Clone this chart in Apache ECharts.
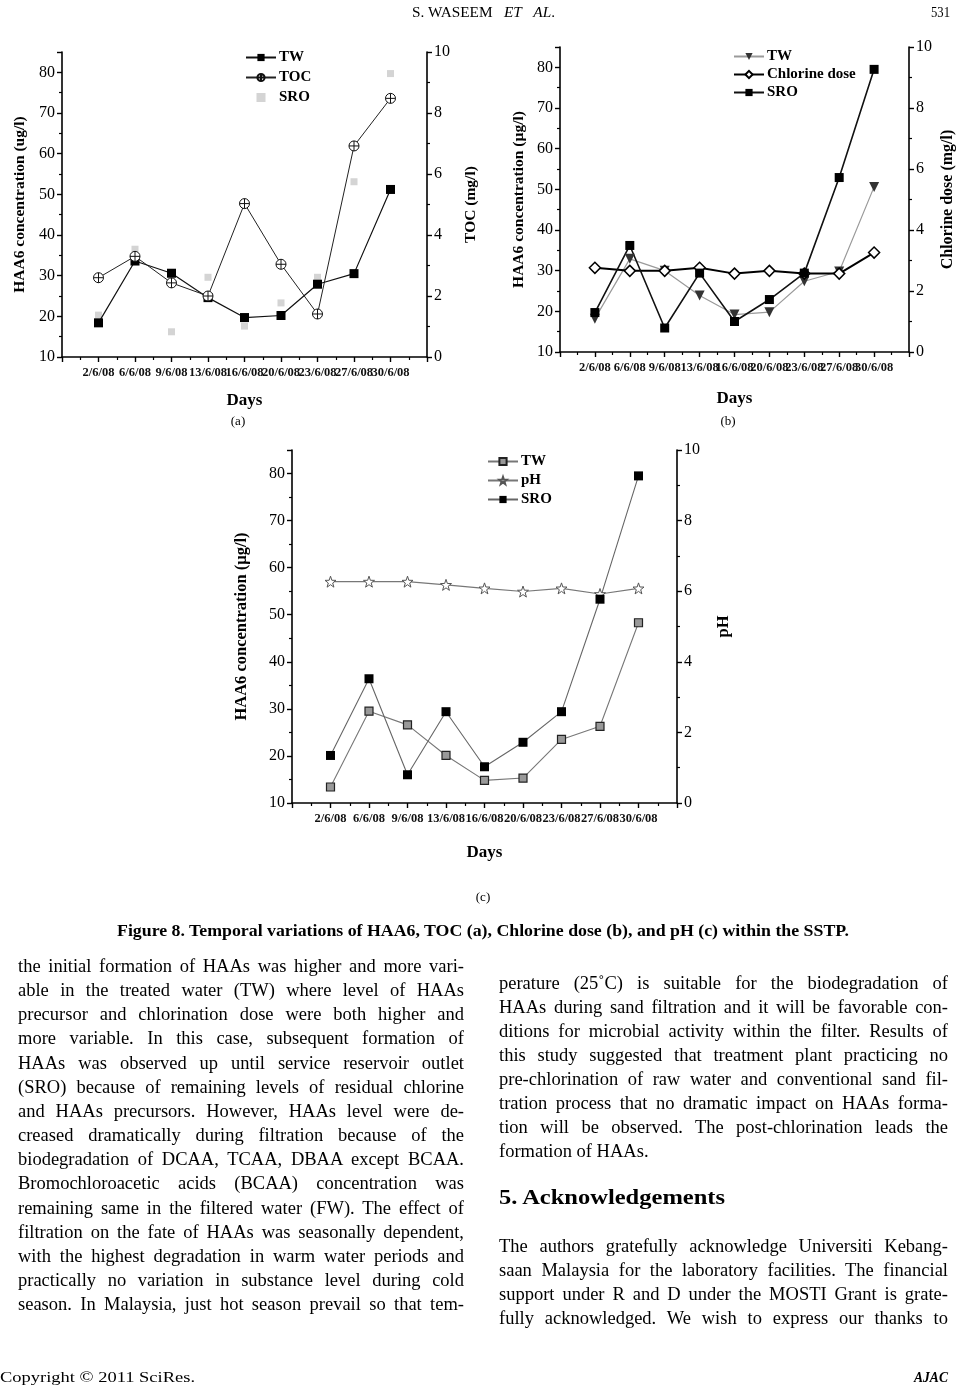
<!DOCTYPE html>
<html><head><meta charset="utf-8">
<script src="https://cdn.jsdelivr.net/npm/echarts@6/dist/echarts.min.js"></script>
<style>
html,body{margin:0;padding:0;background:#fff;}
#page{position:relative;width:967px;height:1386px;overflow:hidden;font-family:"Liberation Serif","Times New Roman",serif;color:#000;}
#chart{position:absolute;left:0;top:0;width:967px;height:1386px;}
.t{position:absolute;white-space:nowrap;transform-origin:0 50%;}
</style></head>
<body><div id="page"><div id="chart"></div></div>
<script>
// ---- data ----
const days = ['2/6/08','6/6/08','9/6/08','13/6/08','16/6/08','20/6/08','23/6/08','27/6/08','30/6/08'];
const haaTicks = [10,20,30,40,50,60,70,80];
const rightTicks = [0,2,4,6,8,10];
// (a)
const aTW  = [18.4,33.6,30.6,24.6,19.7,20.2,27.9,30.5,51.2];
const aTOC = [2.6,3.3,2.43,2.0,5.03,3.04,1.41,6.92,8.48];
const aSRO = [20.3,36.5,16.2,29.6,17.6,23.3,29.6,53.1,79.7];
// (b)
const bTW       = [18.2,32.9,30.0,23.9,19.2,19.8,27.4,29.8,50.6];
const bChlorine = [2.76,2.66,2.66,2.76,2.57,2.66,2.57,2.57,3.26];
const bSRO      = [19.7,36.2,15.9,29.4,17.5,22.9,29.4,52.9,79.5];
// (c)
const cTW  = [13.4,29.5,26.6,20.1,14.8,15.3,23.5,26.3,48.3];
const cPH  = [6.27,6.27,6.27,6.18,6.08,5.99,6.08,5.92,6.08];
const cSRO = [20.1,36.4,16.0,29.4,17.7,22.9,29.4,53.3,79.5];

const legendNames = {aTW:'TW', aTOC:'TOC', aSRO:'SRO', bTW:'TW', bCl:'Chlorine dose', bSRO:'SRO', cTW:'TW', cPH:'pH', cSRO:'SRO'};

const FF = '"Liberation Serif","Times New Roman",serif';
const pts = arr => arr.map((v,i)=>[i+1, v]);

function xAx(g, gap){
  return {type:'value', gridIndex:g, min:0, max:10, interval:1,
    name:'Days', nameLocation:'middle', nameGap:gap,
    nameTextStyle:{fontFamily:FF, fontWeight:'bold', fontSize:17, color:'#000'},
    axisLine:{show:true, lineStyle:{color:'#000', width:1.6}},
    axisTick:{show:true, length:5, lineStyle:{color:'#000', width:1.4}},
    minorTick:{show:true, splitNumber:2, length:3, lineStyle:{color:'#000', width:1.2}},
    splitLine:{show:false},
    axisLabel:{formatter:v=>days[v-1]||'', fontFamily:FF, fontSize:12.5, fontWeight:'bold', color:'#111', margin:9, hideOverlap:false}
  };
}
function yLeft(g, name, gap, fs){
  return {type:'value', gridIndex:g, position:'left', min:haaTicks[0], max:85, interval:10,
    name:name, nameLocation:'middle', nameRotate:90, nameGap:gap,
    nameTextStyle:{fontFamily:FF, fontWeight:'bold', fontSize:fs, color:'#000'},
    axisLine:{show:true, lineStyle:{color:'#000', width:1.6}},
    axisTick:{show:true, length:5, lineStyle:{color:'#000', width:1.4}},
    minorTick:{show:true, splitNumber:2, length:3, lineStyle:{color:'#000', width:1.2}},
    splitLine:{show:false},
    axisLabel:{formatter:v=>haaTicks.indexOf(v)>=0?String(v):'', fontFamily:FF, fontSize:16, color:'#000', margin:7}
  };
}
function yRight(g, name, gap, fs){
  return {type:'value', gridIndex:g, position:'right', min:rightTicks[0], max:rightTicks[rightTicks.length-1], interval:2,
    name:name, nameLocation:'middle', nameRotate:90, nameGap:gap,
    nameTextStyle:{fontFamily:FF, fontWeight:'bold', fontSize:fs, color:'#000'},
    axisLine:{show:true, lineStyle:{color:'#000', width:1.6}},
    axisTick:{show:true, length:5, lineStyle:{color:'#000', width:1.4}},
    minorTick:{show:true, splitNumber:2, length:3, lineStyle:{color:'#000', width:1.2}},
    splitLine:{show:false},
    axisLabel:{fontFamily:FF, fontSize:16, color:'#000', margin:7}
  };
}
const crossCircle = 'path://M10,0A10,10,0,1,1,9.99,0ZM10,0L10,20M0,10L20,10';
const star = 'path://M10,0L12.35,6.76L19.51,6.91L13.8,11.24L15.88,18.09L10,14L4.12,18.09L6.2,11.24L0.49,6.91L7.65,6.76Z';
const square = 'path://M0,0H10V10H0Z';

function leg(names, left, top, gap){
  return {data:names, formatter:n=>legendNames[n], orient:'vertical', left:left, top:top,
    itemWidth:30, itemHeight:9, itemGap:gap, selectedMode:false, padding:0,
    textStyle:{fontFamily:FF, fontWeight:'bold', fontSize:15, color:'#000', padding:[0,0,0,-2]}};
}

const option = {
  animation:false,
  backgroundColor:'#fff',
  grid:[
    {left:62, top:52, width:365, height:305},
    {left:560, top:47, width:349, height:305},
    {left:292, top:450, width:385, height:353}
  ],
  xAxis:[xAx(0,35), xAx(1,38), xAx(2,41)],
  yAxis:[
    yLeft(0,'HAA6 concentration (ug/l)',34,15.5), yRight(0,'TOC (mg/l)',36,15.5),
    yLeft(1,'HAA6 concentration (µg/l)',33,15.5), yRight(1,'Chlorine dose (mg/l)',31,16),
    yLeft(2,'HAA6 concentration (µg/l)',42,16.5), yRight(2,'pH',38,16.5)
  ],
  legend:[
    leg(['aTW','aTOC',{name:'aSRO', icon:square, itemStyle:{color:'#c9c9c9'}}], 245, 50, 5),
    leg(['bTW','bCl','bSRO'], 733, 49, 3),
    leg(['cTW','cPH','cSRO'], 487, 454, 4)
  ],
  series:[
    {name:'aTW', type:'line', xAxisIndex:0, yAxisIndex:0, data:pts(aTW), symbol:'rect', symbolSize:9,
      itemStyle:{color:'#000'}, lineStyle:{color:'#111', width:1.2}},
    {name:'aTOC', type:'line', xAxisIndex:0, yAxisIndex:1, data:pts(aTOC), symbol:crossCircle, symbolSize:10,
      itemStyle:{color:'#fff', borderColor:'#111', borderWidth:1}, lineStyle:{color:'#222', width:1}},
    {name:'aSRO', type:'scatter', xAxisIndex:0, yAxisIndex:0, data:pts(aSRO), symbol:'rect', symbolSize:7,
      itemStyle:{color:'#c9c9c9'}},
    {name:'bTW', type:'line', xAxisIndex:1, yAxisIndex:2, data:pts(bTW), symbol:'triangle', symbolRotate:180, symbolSize:10,
      itemStyle:{color:'#333'}, lineStyle:{color:'#9a9a9a', width:1.2}},
    {name:'bCl', type:'line', xAxisIndex:1, yAxisIndex:3, data:pts(bChlorine), symbol:'diamond', symbolSize:11,
      itemStyle:{color:'#fff', borderColor:'#000', borderWidth:1.5}, lineStyle:{color:'#000', width:2}},
    {name:'bSRO', type:'line', xAxisIndex:1, yAxisIndex:2, data:pts(bSRO), symbol:'rect', symbolSize:9,
      itemStyle:{color:'#000'}, lineStyle:{color:'#111', width:1.6}},
    {name:'cTW', type:'line', xAxisIndex:2, yAxisIndex:4, data:pts(cTW), symbol:'rect', symbolSize:8,
      itemStyle:{color:'#999', borderColor:'#222', borderWidth:1.2}, lineStyle:{color:'#777', width:1.1}},
    {name:'cPH', type:'line', xAxisIndex:2, yAxisIndex:5, data:pts(cPH), symbol:star, symbolSize:11,
      itemStyle:{color:'#fff', borderColor:'#555', borderWidth:1}, lineStyle:{color:'#777', width:1.1}},
    {name:'cSRO', type:'line', xAxisIndex:2, yAxisIndex:4, data:pts(cSRO), symbol:'rect', symbolSize:9,
      itemStyle:{color:'#000'}, lineStyle:{color:'#666', width:1.1}}
  ]
};
const chart = echarts.init(document.getElementById('chart'), null, {renderer:'canvas'});
chart.setOption(option);

// ---- page text ----
const leftCol = [
 'the initial formation of HAAs was higher and more vari-',
 'able in the treated water (TW) where level of HAAs',
 'precursor and chlorination dose were both higher and',
 'more variable. In this case, subsequent formation of',
 'HAAs was observed up until service reservoir outlet',
 '(SRO) because of remaining levels of residual chlorine',
 'and HAAs precursors. However, HAAs level were de-',
 'creased dramatically during filtration because of the',
 'biodegradation of DCAA, TCAA, DBAA except BCAA.',
 'Bromochloroacetic acids (BCAA) concentration was',
 'remaining same in the filtered water (FW). The effect of',
 'filtration on the fate of HAAs was seasonally dependent,',
 'with the highest degradation in warm water periods and',
 'practically no variation in substance level during cold',
 'season. In Malaysia, just hot season prevail so that tem-'
];
const rightCol = [
 'perature (25˚C) is suitable for the biodegradation of',
 'HAAs during sand filtration and it will be favorable con-',
 'ditions for microbial activity within the filter. Results of',
 'this study suggested that treatment plant practicing no',
 'pre-chlorination of raw water and conventional sand fil-',
 'tration process that no dramatic impact on HAAs forma-',
 'tion will be observed. The post-chlorination leads the'
];
const rightLast = 'formation of HAAs.';
const ackLines = [
 'The authors gratefully acknowledge Universiti Kebang-',
 'saan Malaysia for the laboratory facilities. The financial',
 'support under R and D under the MOSTI Grant is grate-',
 'fully acknowledged. We wish to express our thanks to'
];

const page = document.getElementById('page');
function measure(html, size, weight, style){
  const s = document.createElement('span');
  s.style.cssText = 'position:absolute;visibility:hidden;white-space:nowrap;font-family:'+FF+';font-size:'+size+'px;font-weight:'+weight+';font-style:'+style;
  s.innerHTML = html; page.appendChild(s);
  const w = s.getBoundingClientRect().width; page.removeChild(s); return w;
}
function put(html, o){
  const size=o.size||18.5, weight=o.weight||'normal', style=o.style||'normal', lh=o.lh||24;
  const d = document.createElement('div'); d.className='t';
  d.style.fontSize=size+'px'; d.style.fontWeight=weight; d.style.fontStyle=style;
  d.style.lineHeight=lh+'px'; d.style.top=(o.y-lh/2)+'px'; d.innerHTML=html;
  const n = measure(html,size,weight,style);
  let left = o.x, scale = 1, width = n;
  if (o.mode==='justify'){
    if (n > o.w){ scale = o.w/n; }
    else { width = o.w; d.style.textAlign='justify'; d.style.textAlignLast='justify'; }
  } else if (o.mode==='fit'){ scale = o.w/n; }
  else if (o.mode==='left'){ if (o.w && n>o.w) scale=o.w/n; }
  if (o.anchor==='center'){ left = o.x - (n*scale)/2; }
  if (o.anchor==='right'){ left = o.x - (n*scale); }
  d.style.left = left+'px'; d.style.width = width+'px';
  if (scale!==1) d.style.transform='scaleX('+scale+')';
  page.appendChild(d);
}
// header
put('S. WASEEM&nbsp;&nbsp;&nbsp;<i>ET&nbsp;&nbsp;&nbsp;AL</i>.', {x:483, y:12, size:15, w:143, mode:'fit', anchor:'center', lh:18});
put('531', {x:950, y:12, size:15, w:19, mode:'fit', anchor:'right', lh:18});
// sub captions
put('(a)', {x:238, y:421, size:13, anchor:'center', lh:16});
put('(b)', {x:728, y:421, size:13, anchor:'center', lh:16});
put('(c)', {x:483, y:897, size:13, anchor:'center', lh:16});
put('Figure 8. Temporal variations of HAA6, TOC (a), Chlorine dose (b), and pH (c) within the SSTP.',
    {x:483, y:931, size:16, weight:'bold', w:732, mode:'fit', anchor:'center', lh:20});
// columns
leftCol.forEach((t,i)=>put(t,{x:18, y:966+i*24.15, w:446, mode:'justify'}));
rightCol.forEach((t,i)=>put(t,{x:499, y:983+i*24, w:449, mode:'justify'}));
put(rightLast,{x:499, y:983+7*24, mode:'left'});
put('5. Acknowledgements',{x:499, y:1197, size:21, weight:'bold', w:226, mode:'fit', lh:26});
ackLines.forEach((t,i)=>put(t,{x:499, y:1246+i*24, w:449, mode:'justify'}));
// footer
put('Copyright © 2011 SciRes.',{x:0, y:1377, size:15, w:195, mode:'fit', lh:18});
put('AJAC',{x:948, y:1377, size:15, weight:'bold', style:'italic', w:34, mode:'fit', anchor:'right', lh:18});
</script>
</body></html>
